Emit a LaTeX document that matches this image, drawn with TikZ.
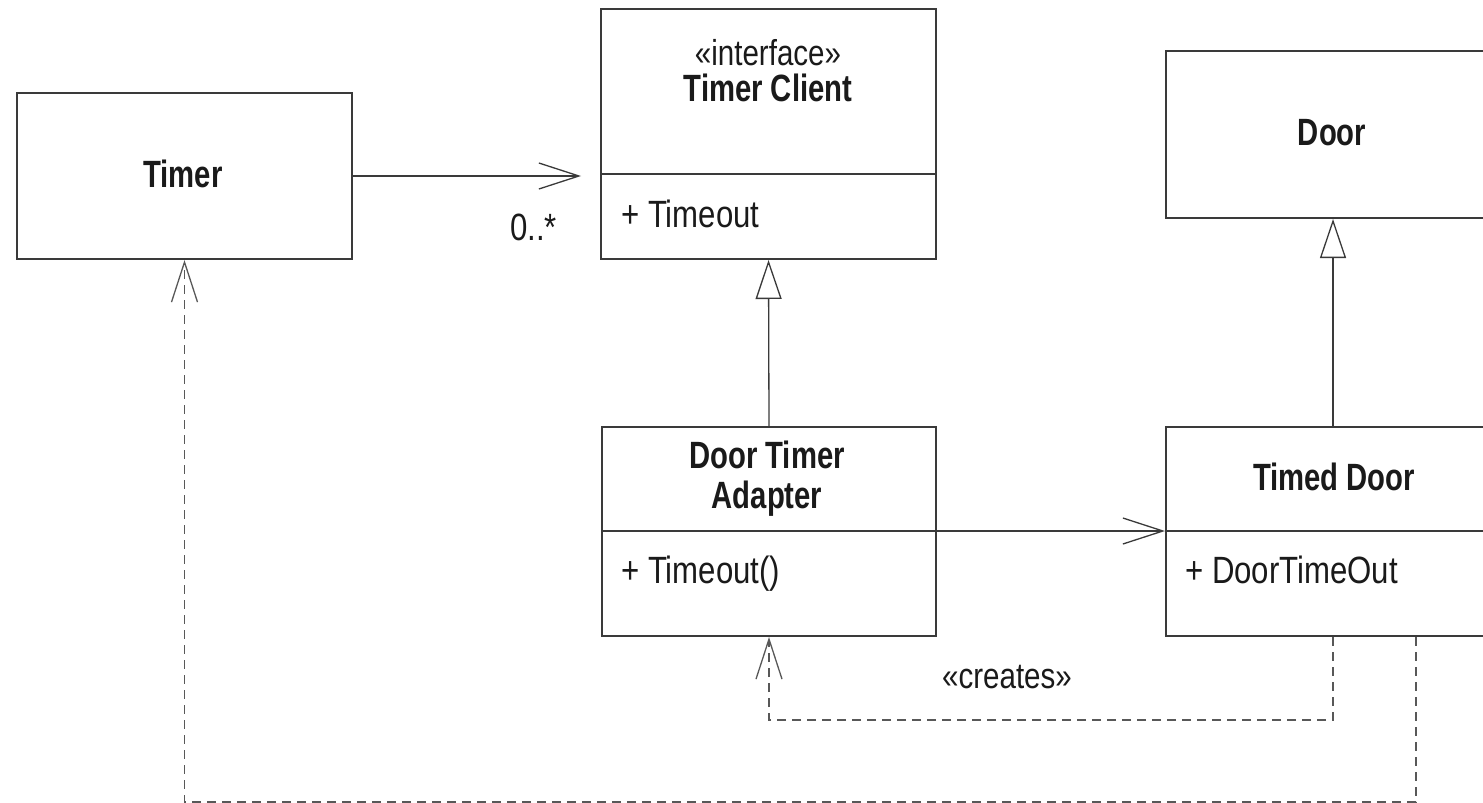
\documentclass[tikz,border=0pt]{standalone}
\usepackage{fontspec}
\setmainfont{Liberation Sans}[FakeStretch=0.82, BoldFeatures={FakeStretch=0.77}]
\usetikzlibrary{arrows.meta}
\definecolor{edge}{HTML}{3A3A3A}
\definecolor{ink}{HTML}{1A1A1A}
\tikzset{
  umlbox/.style={draw=edge, line width=2pt, fill=white, rectangle, inner sep=0pt, anchor=north west},
  divider/.style={draw=edge, line width=1.4pt},
  cname/.style={font=\bfseries\fontsize{38}{44}\selectfont, text=ink, anchor=base, inner sep=0pt},
  member/.style={font=\fontsize{38}{44}\selectfont, text=ink, anchor=base west, inner sep=0pt},
  stereo/.style={font=\fontsize{36}{42}\selectfont, text=ink, anchor=base, inner sep=0pt},
  assoc/.style={draw=edge, line width=1.3pt, -{Straight Barb[length=40pt, width=26pt, line width=1.3pt]}},
  general/.style={draw=edge, line width=1.3pt, -{Triangle[open, length=39pt, width=26pt, line width=1.3pt, fill=white]}},
  depend/.style={draw=edge!85, line width=1.5pt, dash pattern=on 9pt off 6pt,
    -{Straight Barb[length=40pt, width=26pt, line width=1.3pt]}},
}
\begin{document}
\begin{tikzpicture}[x=1pt, y=-1pt]
  \useasboundingbox (0,0) rectangle (1483,803);
  \clip (0,0) rectangle (1483,803);

  % class boxes
  \node[umlbox, minimum width=335pt, minimum height=166pt] (timer) at (16,92) {};
  \node[umlbox, minimum width=335pt, minimum height=250pt] (client) at (600,8) {};
  \node[umlbox, minimum width=334pt, minimum height=167pt] (door) at (1165,50) {};
  \node[umlbox, minimum width=334pt, minimum height=209pt] (adapter) at (601,426) {};
  \node[umlbox, minimum width=334pt, minimum height=209pt] (timed) at (1165,426) {};

  % compartment dividers
  \coordinate (clientdivL) at (600,174);
  \coordinate (clientdivR) at (935,174);
  \coordinate (adapterdivL) at (601,531);
  \coordinate (adapterdivR) at (935,531);
  \coordinate (timeddivL) at (1165,531);
  \coordinate (timeddivR) at (1499,531);
  \draw[divider] (clientdivL) -- (clientdivR);
  \draw[divider] (adapterdivL) -- (adapterdivR);
  \draw[divider] (timeddivL) -- (timeddivR);

  % texts
  \node[cname] (timername) at (183,187) {Timer};
  \node[stereo] (clientstereo) at (768,65) {«interface»};
  \node[cname] (clientname) at (768,101) {Timer Client};
  \node[member] (clientop) at (621,227) {+ Timeout};
  \node[cname] (doorname) at (1332,145) {Door};
  \node[cname] (adaptername1) at (767,468) {Door Timer};
  \node[cname] (adaptername2) at (767,508) {Adapter};
  \node[member] (adapterop) at (621,583) {+ Timeout()};
  \node[cname] (timedname) at (1334,490) {Timed Door};
  \node[member] (timedop) at (1185,583) {+ DoorTimeOut};
  \node[member] (mult) at (510,240) {0..*};
  \node[stereo] (creates) at (1007,688) {«creates»};

  % association Timer -> Timer Client
  \draw[assoc, shorten >=19pt] (timer.east) -- (client.west |- timer.east);
  % generalizations
  \draw[general] (adapter.north) -- (client.south);
  \draw[general] (timed.north) -- (door.south);
  % association Door Timer Adapter -> Timed Door
  \draw[assoc] (adapterdivR) -- (timeddivL);

  % dependencies
  \coordinate (dep2start) at ([xshift=251pt]timed.south west);
  \draw[depend] (timed.south) -- ++(0,83) -| (adapter.south);
  \draw[depend] (dep2start) -- ++(0,165) -| (timer.south);
\end{tikzpicture}
\end{document}
